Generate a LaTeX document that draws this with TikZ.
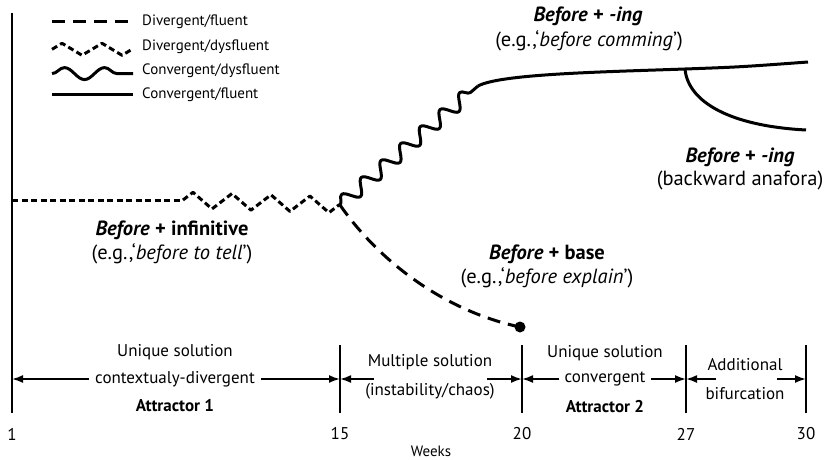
\documentclass[tikz,border=0pt]{standalone}
\usepackage{fontspec}
\setmainfont{PT Sans}
\usetikzlibrary{arrows.meta,decorations.pathmorphing,positioning}

\tikzset{
  lbl/.style={font=\fontsize{17}{20}\selectfont, inner sep=0pt, align=center},
  leg/.style={font=\fontsize{15}{18}\selectfont, inner sep=0pt, anchor=west},
  traj/.style={font=\fontsize{20.5}{24}\selectfont, inner sep=0pt, align=center},
  axisline/.style={line width=1.8pt},
  span/.style={line width=1.8pt, -{Latex[length=11pt,width=8pt]}},
  fluent/.style={line width=3pt, dash pattern=on 13pt off 8pt},
  dysfluent/.style={line width=3pt, dash pattern=on 6pt off 3.5pt},
  zigzagline/.style={dysfluent, decorate,
    decoration={zigzag, segment length=39pt, amplitude=8pt}},
  waveline/.style={line width=3pt, decorate,
    decoration={snake, segment length=40pt, amplitude=6pt}},
  solidline/.style={line width=3pt},
}

\begin{document}
\begin{tikzpicture}[x=1pt, y=-1pt, line join=round]
  \useasboundingbox (0,0) rectangle (827,460);

  % axis and week ticks
  \coordinate (top) at (12,13);
  \coordinate (w1) at (12,413);
  \coordinate (w15) at (340,413);
  \coordinate (w20) at (522,413);
  \coordinate (w27) at (686,413);
  \coordinate (w30) at (806,413);
  \draw[axisline] (top) -- (w1);
  \foreach \w in {15,20,27,30}
    \draw[axisline] (w\w) -- ++(0,-68);
  \foreach \w in {1,15,20,27,30}
    \node[lbl] (n\w) at ([yshift=-21pt]w\w) {\w};
  \node[leg, anchor=center] (weeks) at (431,451) {Weeks};

  % legend
  \foreach \i/\t in {0/{Divergent/fluent}, 1/{Divergent/dysfluent},
                     2/{Convergent/dysfluent}, 3/{Convergent/fluent}} {
    \coordinate (lg\i a) at (52,{22+24.3*\i});
    \coordinate (lg\i b) at (133,{22+24.3*\i});
    \node[leg] (lg\i) at ([xshift=9pt]lg\i b) {\t};
  }
  \draw[fluent] (lg0a) -- (lg0b);
  \draw[dysfluent, decorate, decoration={zigzag, segment length=40pt, amplitude=6pt}]
    ([yshift=-3pt]lg1a) -- ([yshift=-3pt]lg1b);
  \draw[waveline] ([yshift=-3pt]lg2a) -- ([yshift=-3pt]lg2b);
  \draw[solidline] (lg3a) -- (lg3b);

  % trajectories
  \coordinate (start) at (12,200);
  \coordinate (chaos) at (183,200);
  \coordinate (fork) at (340,205);
  \coordinate (settle) at (478,86);
  \coordinate (split) at (685,69);
  \coordinate (upper) at (808,62);
  \coordinate (lower) at (806,130);
  \coordinate (stop) at (520,327);

  \draw[dysfluent] (start) -- (chaos);
  \draw[zigzagline] (chaos) -- (fork);
  \draw[line width=3pt, decorate, decoration={snake, segment length=26pt, amplitude=7pt}]
    (fork) -- (settle);
  \draw[solidline] (settle) .. controls (500,74) and (600,72) .. (split)
    .. controls (740,67) .. (upper);
  \draw[solidline] (split) .. controls (688,102) and (730,126) .. (lower);
  \draw[fluent] (fork) .. controls (376,257) and (440,310) .. (stop);
  \fill (stop) circle (5.5pt);

  % labels of the trajectories
  \node[traj] (ing) at (588,16) {\textbf{\textit{Before} + \textit{-ing}}};
  \node[traj] (ingex) at (589,41) {(e.g.,‘\textit{before comming}’)};
  \node[traj] (back) at (740,157) {\textbf{\textit{Before} + \textit{-ing}}};
  \node[traj] (backex) at (740,180) {(backward anafora)};
  \node[traj] (inf) at (172,230) {\textbf{\textit{Before} + infinitive}};
  \node[traj] (infex) at (172,254) {(e.g.,‘\textit{before to tell}’)};
  \node[traj] (base) at (547,254) {\textbf{\textit{Before} + base}};
  \node[traj] (baseex) at (547,278) {(e.g.,‘\textit{before explain}’)};

  % phases
  \node[lbl] (ph1a) at (175,352) {Unique solution};
  \node[lbl] (ph1b) at (175,379) {contextualy-divergent};
  \node[lbl] (ph1c) at (175,406) {\textbf{Attractor 1}};
  \node[lbl] (ph2a) at (430,362) {Multiple solution};
  \node[lbl] (ph2b) at (430,391) {(instability/chaos)};
  \node[lbl] (ph3a) at (605,353) {Unique solution};
  \node[lbl] (ph3b) at (605,379) {convergent};
  \node[lbl] (ph3c) at (605,407) {\textbf{Attractor 2}};
  \node[lbl] (ph4a) at (745,365) {Additional};
  \node[lbl] (ph4b) at (745,394) {bifurcation};

  \coordinate (m1) at (374,379);
  \coordinate (m2) at (487,379);
  \coordinate (a1) at (716,379);
  \coordinate (a2) at (777,379);

  \draw[span] ([xshift=-6pt]ph1b.west) -- (w1 |- ph1b);
  \draw[span] ([xshift=6pt]ph1b.east) -- (w15 |- ph1b);
  \draw[span] (m1) -- (w15 |- m1);
  \draw[span] (m2) -- (w20 |- m2);
  \draw[span] ([xshift=-5pt]ph3b.west) -- (w20 |- ph3b);
  \draw[span] ([xshift=5pt]ph3b.east) -- (w27 |- ph3b);
  \draw[span] (a1) -- (w27 |- a1);
  \draw[span] (a2) -- (w30 |- a2);
\end{tikzpicture}
\end{document}
